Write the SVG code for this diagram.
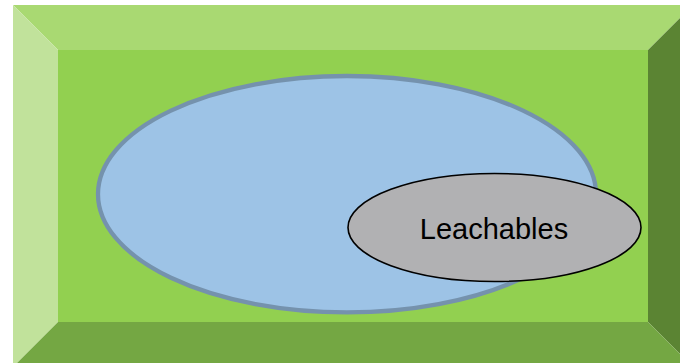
<svg xmlns="http://www.w3.org/2000/svg" width="680" height="363" viewBox="0 0 680 363">
  <style>
    .label { font-family: "Liberation Sans", Arial, sans-serif; font-size: 29px; fill: #000; }
  </style>
  <rect width="680" height="363" fill="#ffffff"/>
  <!-- bevelled green panel -->
  <g id="panel">
    <polygon points="13,5 693,5 648,50 58,50" fill="#a9d972"/>
    <polygon points="13,5 58,50 58,322 13,367" fill="#c1e29b"/>
    <polygon points="693,5 693,367 648,322 648,50" fill="#5b8433"/>
    <polygon points="13,367 58,322 648,322 693,367" fill="#74a743"/>
    <rect x="58" y="50" width="590" height="272" fill="#92d050"/>
  </g>
  <g id="outer-set">
    <ellipse cx="347" cy="194.2" rx="249" ry="118.2" fill="#9dc3e6" stroke="#7592ad" stroke-width="4.3"/>
  </g>
  <g id="leachables">
    <ellipse cx="494.5" cy="227.5" rx="146.5" ry="54" fill="#b1b1b3" stroke="#000" stroke-width="1.6"/>
    <text class="label" x="494" y="239.3" text-anchor="middle">Leachables</text>
  </g>
  <g id="connectors"/>
</svg>
